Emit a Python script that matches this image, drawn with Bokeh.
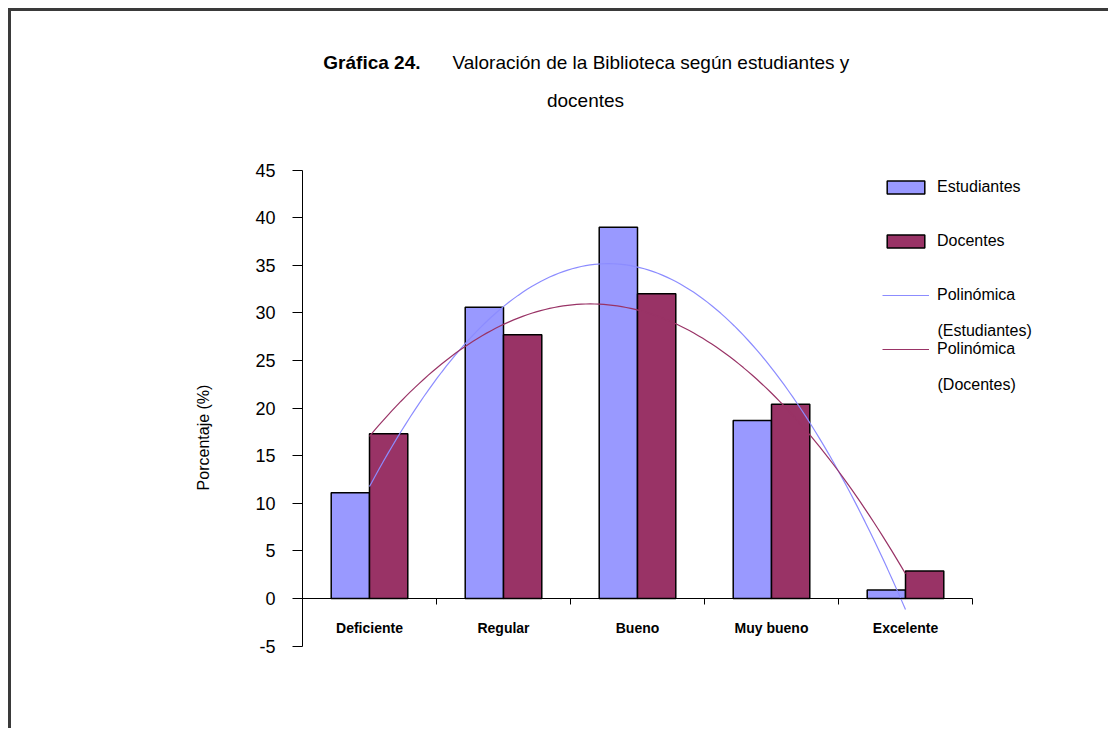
import numpy as np
from bokeh.plotting import figure
from bokeh.models import Range1d, FixedTicker, Label, Legend, LegendItem
from bokeh.embed import file_html
from bokeh.resources import INLINE

# ---------------- data ----------------
categories = ["Deficiente", "Regular", "Bueno", "Muy bueno", "Excelente"]
estudiantes = [11.1, 30.6, 39.0, 18.7, 0.9]
docentes = [17.3, 27.7, 32.0, 20.4, 2.9]
y_ticks = [-5, 0, 5, 10, 15, 20, 25, 30, 35, 40, 45]
series_names = ["Estudiantes", "Docentes"]
trend_first = ["Polinómica", "Polinómica"]
trend_second = ["(Estudiantes)", "(Docentes)"]
title_bold = "Gráfica 24."
title_rest = "Valoración de la Biblioteca según  estudiantes y"
title_line2 = "docentes"
y_label = "Porcentaje (%)"

# ---------------- layout (page pixels) ----------------
C_EST = "#9999FF"
C_DOC = "#993366"
FONT = "Liberation Sans"

W, H = 1100, 720
ORIGIN = 11                      # canvas top-left on the page (margin 8 + border 3)
MB_L, MB_R, MB_T, MB_B = 100, 5, 5, 60
FL, FR = ORIGIN + MB_L, ORIGIN + W - MB_R      # frame left/right (page px)
FT, FB = ORIGIN + MB_T, ORIGIN + H - MB_B      # frame top/bottom (page px)
AX_X0, PX_X = 302, 134.0         # page x of category-axis start, px per category
AX_Y0, PX_Y = 598, 9.52          # page y of value 0, px per unit

x_range = Range1d((FL - AX_X0) / PX_X, (FR - AX_X0) / PX_X)
y_range = Range1d((AX_Y0 - FB) / PX_Y, (AX_Y0 - FT) / PX_Y)

p = figure(width=W, height=H, output_backend="svg", toolbar_location=None,
           x_range=x_range, y_range=y_range,
           min_border_left=MB_L, min_border_right=MB_R, min_border_top=MB_T,
           min_border_bottom=MB_B)
p.styles = {"margin-top": "8px", "margin-left": "8px",
            "border-top": "3px solid #3a3a3a", "border-left": "3px solid #3a3a3a"}
p.outline_line_color = None
p.grid.visible = False
p.background_fill_color = "white"
p.border_fill_color = "white"

n = len(categories)
xc = np.arange(n) + 0.5
bw = 1 / 3.5

r_est = p.vbar(x=xc - bw / 2, top=estudiantes, width=bw, bottom=0,
               fill_color=C_EST, line_color="black", line_width=1.5)
r_doc = p.vbar(x=xc + bw / 2, top=docentes, width=bw, bottom=0,
               fill_color=C_DOC, line_color="black", line_width=1.5)

# polynomial (order 2) trend lines fitted to the data, as in Excel
xs = np.linspace(xc[0], xc[-1], 120)
ce = np.polyfit(xc, estudiantes, 2)
cd = np.polyfit(xc, docentes, 2)
r_te = p.line(xs, np.polyval(ce, xs), line_color="#8c8cff", line_width=1.2)
r_td = p.line(xs, np.polyval(cd, xs), line_color=C_DOC, line_width=1.2)

# y axis at x = 0, spanning -5..45
ya = p.yaxis[0]
ya.fixed_location = 0
ya.bounds = (y_ticks[0], y_ticks[-1])
ya.ticker = FixedTicker(ticks=y_ticks, minor_ticks=[])
ya.major_label_overrides = {t: str(t) for t in y_ticks}
ya.major_tick_out = 10
ya.major_tick_in = 0
ya.major_label_standoff = 17
ya.major_label_text_font = FONT
ya.major_label_text_font_size = "18px"
ya.major_label_text_color = "black"
ya.axis_line_color = "black"
ya.major_tick_line_color = "black"

# category axis at y = 0
xa = p.xaxis[0]
xa.fixed_location = 0
xa.bounds = (0, n)
xa.ticker = FixedTicker(ticks=list(xc), minor_ticks=list(range(n + 1)))
xa.major_label_overrides = {float(x): c for x, c in zip(xc, categories)}
xa.major_tick_out = 0
xa.major_tick_in = 0
xa.minor_tick_out = 6
xa.minor_tick_in = 0
xa.minor_tick_line_color = "black"
xa.axis_line_color = "black"
xa.major_label_standoff = 15
xa.major_label_text_font = FONT
xa.major_label_text_font_size = "14px"
xa.major_label_text_font_style = "bold"
xa.major_label_text_color = "black"

# legend (location = its bottom-left, relative to the frame's bottom-left)
legend = Legend(items=[
    LegendItem(label=series_names[0], renderers=[r_est]),
    LegendItem(label=series_names[1], renderers=[r_doc]),
    LegendItem(label=trend_first[0], renderers=[r_te]),
    LegendItem(label=trend_first[1], renderers=[r_td]),
], location=(882 - FL, FB - 358), orientation="vertical")
legend.glyph_width = 47
legend.glyph_height = 16
legend.label_height = 16
legend.spacing = 36
legend.padding = 0
legend.margin = 0
legend.label_standoff = 8
legend.border_line_color = None
legend.background_fill_alpha = 0
legend.label_text_font = FONT
legend.label_text_font_size = "16px"
legend.label_text_color = "black"
p.add_layout(legend, "center")


def add_label(text, px, py, size, style="normal", align="left", baseline="alphabetic", angle=0):
    """Place a text at page pixel (px, py) -> frame-relative screen units."""
    p.add_layout(Label(x=px - FL, y=FB - py, x_units="screen", y_units="screen", text=text,
                       text_font=FONT, text_font_size=size, text_font_style=style,
                       text_align=align, text_baseline=baseline, angle=angle,
                       text_color="black"))


# legend second lines
add_label(trend_second[0], 937, 330, "16px")
add_label(trend_second[1], 937, 384, "16px")

# title
add_label(title_bold, 420, 62, "19px", style="bold", align="right")
add_label(title_rest, 452, 62, "19px")
add_label(title_line2, 585, 100, "19px", align="center")

# y axis title
add_label(y_label, 203, 437, "16px", align="center", baseline="middle", angle=np.pi / 2)

open("out.html", "w").write(file_html(p, INLINE))
